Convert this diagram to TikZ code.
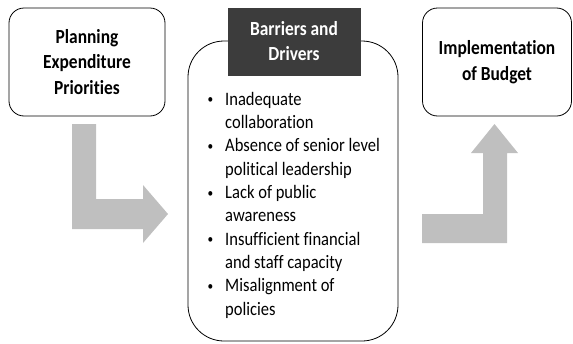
\documentclass[tikz,border=0pt]{standalone}
\usepackage{fontspec}
\setmainfont{Carlito}[FakeStretch=0.87, Ligatures=NoCommon]
\definecolor{arrowgray}{HTML}{BFBFBF}
\definecolor{headdark}{HTML}{3C3C3C}
\begin{document}
\begin{tikzpicture}[x=1pt,y=-1pt,
  titlebox/.style={draw=black, line width=0.8pt, rounded corners=15pt, fill=white,
    align=center, inner sep=0pt, font=\fontsize{20}{25.5}\selectfont\bfseries},
  bigbox/.style={draw=black, line width=0.8pt, rounded corners=36pt, fill=white, inner sep=0pt},
  headbox/.style={draw=headdark, fill=headdark, text=white, align=center, inner sep=0pt,
    font=\fontsize{20}{25}\selectfont\bfseries},
  listtext/.style={align=left, inner sep=0pt, font=\fontsize{19}{23.3}\selectfont},
  blockarrow/.style={fill=arrowgray, draw=none}]
\useasboundingbox (0,0) rectangle (573,343);

% boxes
\node[titlebox, minimum width=156pt, minimum height=108pt] (plan) at (87,62)
  {Planning\\Expenditure\\Priorities};
\node[titlebox, minimum width=149pt, minimum height=108pt] (impl) at (497,62)
  {Implementation\\of Budget};
\node[bigbox, minimum width=210pt, minimum height=300pt] (mid) at (293,191) {};
\node[headbox, minimum width=132pt, minimum height=67pt] (head) at (294,41.5)
  {Barriers and\\Drivers};

% bullet list
\newcommand{\bul}{\llap{\raisebox{1.5pt}{\fontsize{13}{13}\selectfont\textbullet}\hspace{12pt}}}
\node[listtext, anchor=north west] (list) at (225,92)
  {\bul Inadequate\\
   collaboration\\
   \bul Absence of senior level\\
   political leadership\\
   \bul Lack of public\\
   awareness\\
   \bul Insufficient financial\\
   and staff capacity\\
   \bul Misalignment of\\
   policies};

% block arrows
\fill[blockarrow] (72,124) -- (96,124) -- (96,199) -- (143,199) -- (143,185)
  -- (168,214) -- (143,243) -- (143,229) -- (72,229) -- cycle;
\fill[blockarrow] (422,214) -- (483,214) -- (483,153) -- (471,153) -- (494.5,124)
  -- (518,153) -- (507,153) -- (507,243) -- (422,243) -- cycle;
\end{tikzpicture}
\end{document}
